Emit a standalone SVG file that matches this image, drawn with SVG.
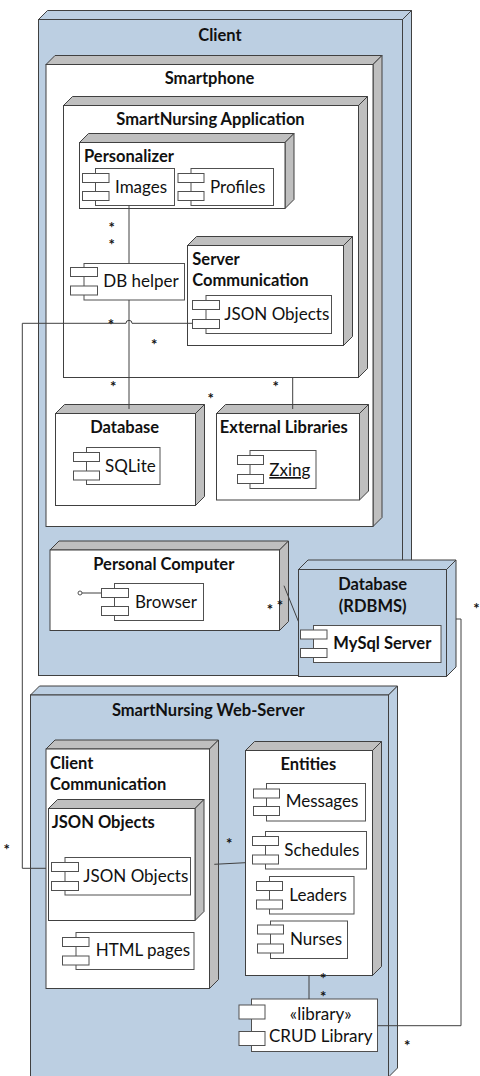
<svg xmlns="http://www.w3.org/2000/svg" width="480" height="1076" viewBox="0 0 480 1076">
<defs>
<style>
.bg{fill:#ffffff}
.fw{fill:#ffffff;stroke:#404040;stroke-width:1}
.fb{fill:#bccfe2;stroke:#404040;stroke-width:1}
.sg{fill:#bfbfbf;stroke:#404040;stroke-width:1}
.sb{fill:#bccfe2;stroke:#404040;stroke-width:1}
.cm{fill:#ffffff;stroke:#505050;stroke-width:1}
.ln{fill:none;stroke:#404040;stroke-width:1}
text{font-family:Lato,"Liberation Sans",sans-serif;fill:#111111}
.b{font-weight:bold;font-size:16.5px}
.r{font-size:17px}
.c{text-anchor:middle}
.st{font-size:15px;text-anchor:middle;font-weight:bold}
</style>
</defs>
<rect class="bg" x="0" y="0" width="480" height="1076"/>

<g id="client">
<polygon class="sb" points="38.5,19.5 47.5,10.5 411.5,10.5 402.5,19.5"/>
<polygon class="sb" points="402.5,19.5 411.5,10.5 411.5,666.5 402.5,675.5"/>
<rect class="fb" x="38.5" y="19.5" width="364" height="656"/>
<text class="b c" x="220" y="40.5">Client</text>
</g>

<g id="smartphone">
<polygon class="sg" points="46,64.5 55,55.5 382,55.5 373,64.5"/>
<polygon class="sg" points="373,64.5 382,55.5 382,517.5 373,526.5"/>
<rect class="fw" x="46" y="64.5" width="327" height="462"/>
<text class="b c" x="209.5" y="84">Smartphone</text>
</g>

<g id="app">
<polygon class="sg" points="63.5,105.5 72.5,96.5 367.5,96.5 358.5,105.5"/>
<polygon class="sg" points="358.5,105.5 367.5,96.5 367.5,368.5 358.5,377.5"/>
<rect class="fw" x="63.5" y="105.5" width="295" height="272"/>
<text class="b c" x="210.5" y="125">SmartNursing Application</text>
</g>

<g id="personalizer">
<polygon class="sg" points="79.5,142.5 88.5,133.5 294,133.5 285,142.5"/>
<polygon class="sg" points="285,142.5 294,133.5 294,199.5 285,208.5"/>
<rect class="fw" x="79.5" y="142.5" width="205.5" height="66"/>
<text class="b" x="84" y="162.3">Personalizer</text>
</g>

<g id="images">
<rect class="cm" x="95.5" y="168.5" width="79" height="37"/>
<rect class="cm" x="82.5" y="173.5" width="26.5" height="9"/>
<rect class="cm" x="82.5" y="191.5" width="26.5" height="9"/>
<text class="r" x="115" y="192.7">Images</text>
</g>

<g id="profiles">
<rect class="cm" x="191" y="168.5" width="82.5" height="37"/>
<rect class="cm" x="178" y="173.5" width="26" height="9"/>
<rect class="cm" x="178" y="191.5" width="26" height="9"/>
<text class="r" x="210" y="192.7">Profiles</text>
</g>

<g id="dbhelper">
<rect class="cm" x="84" y="263.5" width="100.5" height="36.5"/>
<rect class="cm" x="70.5" y="267.5" width="27" height="9"/>
<rect class="cm" x="70.5" y="286" width="27" height="9"/>
<text class="r" x="103.3" y="287.3">DB helper</text>
</g>

<g id="servercomm">
<polygon class="sg" points="187.5,245.5 196.5,236.5 352.5,236.5 343.5,245.5"/>
<polygon class="sg" points="343.5,245.5 352.5,236.5 352.5,336.5 343.5,345.5"/>
<rect class="fw" x="187.5" y="245.5" width="156" height="100"/>
<text class="b" x="192.3" y="265">Server</text>
<text class="b" x="192.3" y="285.7">Communication</text>
</g>

<g id="json-server">
<rect class="cm" x="206" y="295.5" width="125.5" height="38"/>
<rect class="cm" x="192.5" y="300.5" width="27" height="9"/>
<rect class="cm" x="192.5" y="319.5" width="27" height="9"/>
<text class="r" x="224.3" y="320">JSON Objects</text>
</g>

<g id="database">
<polygon class="sg" points="55.5,413.5 64.5,404.5 204.5,404.5 195.5,413.5"/>
<polygon class="sg" points="195.5,413.5 204.5,404.5 204.5,496.5 195.5,505.5"/>
<rect class="fw" x="55.5" y="413.5" width="140" height="92"/>
<text class="b c" x="124.7" y="433.3">Database</text>
</g>

<g id="sqlite">
<rect class="cm" x="86.5" y="447.5" width="73.5" height="37"/>
<rect class="cm" x="73.5" y="452.5" width="26" height="9"/>
<rect class="cm" x="73.5" y="471" width="26" height="9"/>
<text class="r" x="105" y="471.7">SQLite</text>
</g>

<g id="extlibs">
<polygon class="sg" points="216.5,413.5 225.5,404.5 368.5,404.5 359.5,413.5"/>
<polygon class="sg" points="359.5,413.5 368.5,404.5 368.5,491 359.5,500"/>
<rect class="fw" x="216.5" y="413.5" width="143" height="86.5"/>
<text class="b c" x="283.8" y="433.3">External Libraries</text>
</g>

<g id="zxing">
<rect class="cm" x="250" y="450.5" width="66" height="38"/>
<rect class="cm" x="237.5" y="455.5" width="26" height="9"/>
<rect class="cm" x="237.5" y="474.5" width="26" height="9"/>
<text class="r" x="269.3" y="476" text-decoration="underline">Zxing</text>
</g>

<g id="pc">
<polygon class="sg" points="50,550 59,541 288.5,541 279.5,550"/>
<polygon class="sg" points="279.5,550 288.5,541 288.5,621.5 279.5,630.5"/>
<rect class="fw" x="50" y="550" width="229.5" height="80.5"/>
<text class="b c" x="163.8" y="569.5">Personal Computer</text>
</g>

<g id="browser">
<circle cx="80" cy="593" r="2" fill="#ffffff" stroke="#505050"/>
<line class="ln" x1="82" y1="593" x2="101.5" y2="593"/>
<rect class="cm" x="114.5" y="583.5" width="89" height="37"/>
<rect class="cm" x="101.5" y="588.5" width="27" height="9"/>
<rect class="cm" x="101.5" y="606.5" width="27" height="9"/>
<text class="r" x="135" y="607.7">Browser</text>
</g>

<g id="rdbms">
<polygon class="sb" points="298.5,569.5 308,560 456,560 446.5,569.5"/>
<polygon class="sb" points="446.5,569.5 456,560 456,667 446.5,676.5"/>
<rect class="fb" x="298.5" y="569.5" width="148" height="107"/>
<text class="b c" x="372.7" y="590">Database</text>
<text class="b c" x="372.7" y="612">(RDBMS)</text>
</g>

<g id="mysql">
<rect class="cm" x="313.5" y="625.5" width="127.5" height="37"/>
<rect class="cm" x="300.5" y="630" width="26.5" height="9"/>
<rect class="cm" x="300.5" y="648.5" width="26.5" height="9"/>
<text class="b" x="333.3" y="649.3">MySql Server</text>
</g>

<g id="webserver">
<polygon class="sb" points="30.5,695 39.5,686 397.5,686 388.5,695"/>
<polygon class="sb" points="388.5,695 397.5,686 397.5,1068 388.5,1077"/>
<rect class="fb" x="30.5" y="695" width="358" height="382"/>
<text class="b c" x="208.3" y="715.7">SmartNursing Web-Server</text>
</g>

<g id="clientcomm">
<polygon class="sg" points="46,749 55,740 218.5,740 209.5,749"/>
<polygon class="sg" points="209.5,749 218.5,740 218.5,979.5 209.5,988.5"/>
<rect class="fw" x="46" y="749" width="163.5" height="239.5"/>
<text class="b" x="50" y="769">Client</text>
<text class="b" x="50" y="790">Communication</text>
</g>

<g id="jsonnode">
<polygon class="sg" points="48.5,808.5 57.5,799.5 204,799.5 195,808.5"/>
<polygon class="sg" points="195,808.5 204,799.5 204,911.5 195,920.5"/>
<rect class="fw" x="48.5" y="808.5" width="146.5" height="112"/>
<text class="b" x="51.7" y="828.3">JSON Objects</text>
</g>

<g id="json-client">
<rect class="cm" x="65" y="857.5" width="125.5" height="37.5"/>
<rect class="cm" x="51.5" y="862.5" width="27" height="9"/>
<rect class="cm" x="51.5" y="881.5" width="27" height="9"/>
<text class="r" x="83.3" y="882.3">JSON Objects</text>
</g>

<g id="html">
<rect class="cm" x="76" y="932.5" width="118" height="37"/>
<rect class="cm" x="62.5" y="937.5" width="26.5" height="9"/>
<rect class="cm" x="62.5" y="956" width="26.5" height="9"/>
<text class="r" x="95.7" y="955.7">HTML pages</text>
</g>

<g id="entities">
<polygon class="sg" points="245.5,750.5 254.5,741.5 381.5,741.5 372.5,750.5"/>
<polygon class="sg" points="372.5,750.5 381.5,741.5 381.5,966.5 372.5,975.5"/>
<rect class="fw" x="245.5" y="750.5" width="127" height="225"/>
<text class="b c" x="308.3" y="770">Entities</text>
</g>

<g id="messages">
<rect class="cm" x="266.5" y="783.5" width="99" height="37.5"/>
<rect class="cm" x="253.5" y="789" width="26" height="9"/>
<rect class="cm" x="253.5" y="806.5" width="26" height="9"/>
<text class="r" x="285.7" y="807.3">Messages</text>
</g>

<g id="schedules">
<rect class="cm" x="265.5" y="831.5" width="101" height="37.5"/>
<rect class="cm" x="252.5" y="836.5" width="26" height="9"/>
<rect class="cm" x="252.5" y="855" width="26" height="9"/>
<text class="r" x="284.3" y="855.7">Schedules</text>
</g>

<g id="leaders">
<rect class="cm" x="269.5" y="876.5" width="84.5" height="37.5"/>
<rect class="cm" x="256.5" y="881.5" width="26" height="9"/>
<rect class="cm" x="256.5" y="900" width="26" height="9"/>
<text class="r" x="289.3" y="900.7">Leaders</text>
</g>

<g id="nurses">
<rect class="cm" x="270.5" y="921" width="77" height="37.5"/>
<rect class="cm" x="257.5" y="925" width="26" height="9"/>
<rect class="cm" x="257.5" y="944" width="26" height="9"/>
<text class="r" x="290" y="945">Nurses</text>
</g>

<g id="crud">
<rect class="cm" x="251.5" y="999" width="126" height="52.5"/>
<rect class="cm" x="239" y="1005" width="26" height="14"/>
<rect class="cm" x="239" y="1031.5" width="26" height="14"/>
<text class="r c" x="320.7" y="1020">«library»</text>
<text class="r c" x="320.7" y="1041.7">CRUD Library</text>
</g>

<g id="connectors">
<line class="ln" x1="129" y1="205.5" x2="129" y2="263.5"/>
<line class="ln" x1="129" y1="300" x2="129" y2="409"/>
<line class="ln" x1="292.7" y1="377.5" x2="292.7" y2="409"/>
<path class="ln" d="M192.5,323.3 H132 A3,3 0 0 0 126,323.3 H22.3 V868.3 H46"/>
<line class="ln" x1="284" y1="585.7" x2="298.5" y2="621.7"/>
<path class="ln" d="M456,619 H461 V1025.7 H377.5"/>
<line class="ln" x1="214.3" y1="864.3" x2="245.5" y2="862.7"/>
<line class="ln" x1="309" y1="975.5" x2="309" y2="999"/>
<text class="st" x="111.7" y="233">*</text>
<text class="st" x="111.7" y="249.5">*</text>
<text class="st" x="111" y="329.5">*</text>
<text class="st" x="154.3" y="349.5">*</text>
<text class="st" x="113.3" y="392">*</text>
<text class="st" x="275.7" y="392">*</text>
<text class="st" x="210.7" y="403.5">*</text>
<text class="st" x="270" y="614.5">*</text>
<text class="st" x="280" y="611">*</text>
<text class="st" x="476.5" y="613.5">*</text>
<text class="st" x="6.7" y="854.5">*</text>
<text class="st" x="229.3" y="848.5">*</text>
<text class="st" x="323.3" y="983.5">*</text>
<text class="st" x="323.3" y="1002">*</text>
<text class="st" x="407.3" y="1051">*</text>
</g>
</svg>
